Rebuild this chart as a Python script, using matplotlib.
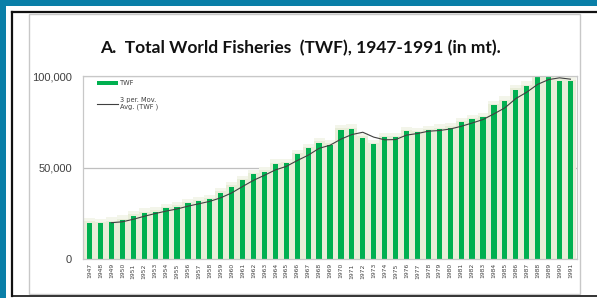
import matplotlib.pyplot as plt
import matplotlib.patches as mpatches
from matplotlib.lines import Line2D
import pandas as pd

years = list(range(1947, 1992))
twf = [19800, 19500, 20200, 21300, 23600, 25100, 25800, 27600, 28600, 30400,
       31500, 32600, 36200, 39500, 43100, 46400, 47700, 51900, 52200, 57300,
       60600, 63500, 62400, 70600, 71000, 66200, 62600, 66600, 66600, 69900,
       69200, 70400, 71000, 71700, 74800, 76400, 77400, 84100, 86300, 92600,
       94500, 99200, 100400, 97400, 97000]
y_ticks = [0, 50000, 100000]
y_labels = ["0", "50,000", "100,000"]

# 3 period moving average trendline like excel
mov_avg = pd.Series(twf).rolling(3).mean()

fig = plt.figure(figsize=(5.97, 2.98), dpi=100)
W, H = 597.0, 298.0

def px_rect(x0, y0, x1, y1, **kw):
    # rectangle in pixel coords measured from top left
    r = mpatches.Rectangle((x0 / W, 1 - y1 / H), (x1 - x0) / W, (y1 - y0) / H,
                           transform=fig.transFigure, **kw)
    fig.add_artist(r)

teal = "#0a7fa8"
px_rect(0, 0, W, 6, facecolor=teal, edgecolor="none")
px_rect(0, 0, 6, H, facecolor=teal, edgecolor="none")
fig.add_artist(Line2D([12 / W, 12 / W], [1 - 12 / H, 1 - 296 / H], color="#111111", lw=1.6, transform=fig.transFigure))
fig.add_artist(Line2D([12 / W, 1], [1 - 12 / H, 1 - 12 / H], color="#111111", lw=1.6, transform=fig.transFigure))
fig.add_artist(Line2D([12 / W, 1], [1 - 296 / H, 1 - 296 / H], color="#111111", lw=1.2, transform=fig.transFigure))
# inner grey panel border
px_rect(29, 14, 580, 294, facecolor="none", edgecolor="#c8c8c8", lw=1.0, zorder=0)

ax = fig.add_axes([83 / W, 1 - 259 / H, (577 - 83) / W, (259 - 76) / H])
x = list(range(len(years)))

# pale glow behind the bars
ax.bar(x, [v + 2500 for v in twf], width=1.0, color="#f3f5ea", zorder=1)
ax.bar(x, [v + 800 for v in twf], width=1.0, color="#e8edd8", zorder=1)
bars = ax.bar(x, twf, width=0.48, color="#00b050", zorder=2)
line, = ax.plot(x, mov_avg, color="#404040", lw=0.8, zorder=3)

ax.set_xlim(-0.6, len(years) - 0.4)
ax.set_ylim(0, 100000)
ax.set_yticks(y_ticks)
ax.set_yticklabels(y_labels)
ax.set_xticks(x)
ax.set_xticklabels([str(y) for y in years], rotation=90, fontsize=4.3, color="#404040")
ax.tick_params(axis="y", length=0, pad=8, labelsize=8, labelcolor="#404040")
ax.tick_params(axis="x", length=0, pad=3)
ax.grid(axis="y", color="#bfbfbf", lw=0.9, zorder=0)
ax.set_axisbelow(True)
for s in ax.spines.values():
    s.set_color("#c8c8c8")
    s.set_linewidth(0.9)
for lab in ax.get_yticklabels():
    lab.set_fontfamily("Liberation Sans")

ax.legend([bars, line], ["TWF", "3 per. Mov.\nAvg. (TWF )"], loc="upper left",
          bbox_to_anchor=(0.02, 1.0), frameon=False, fontsize=4.8,
          handlelength=3.2, handleheight=0.5, labelspacing=1.6, borderaxespad=0.2,
          labelcolor="#404040", handletextpad=0.2)

fig.text(300 / W, 1 - 48 / H, "A.  Total World Fisheries  (TWF), 1947-1991 (in mt).",
         ha="center", va="center", fontsize=12.5, fontweight="bold", family="Lato", color="#111111")

fig.savefig("out.png", dpi=100)
